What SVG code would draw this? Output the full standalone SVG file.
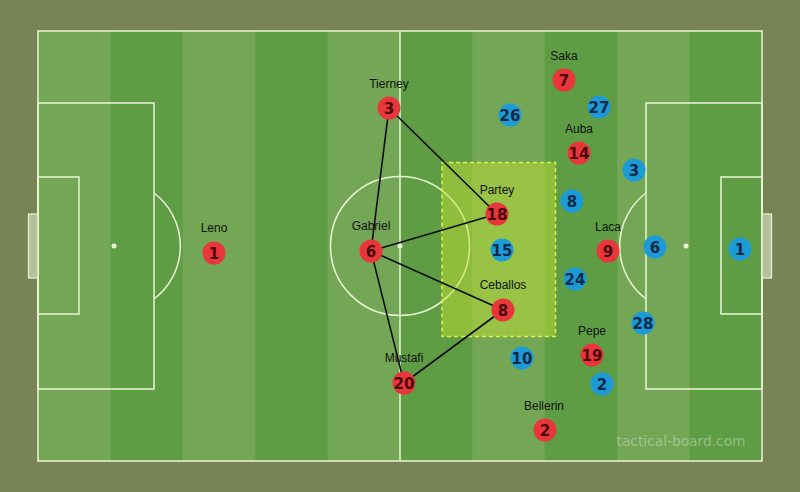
<svg xmlns="http://www.w3.org/2000/svg" width="800" height="492" viewBox="0 0 800 492">
<style>
.ln{fill:none;stroke:#eaf5d6;stroke-width:1.5}
.lt{fill:#eaf5d6}
.con{stroke:#0b0b0b;stroke-width:1.6;fill:none}
.red{fill:#e8363b}
.blue{fill:#1c9bd6}
.nr{font-family:"DejaVu Sans","Liberation Sans",sans-serif;font-weight:bold;font-size:15px;fill:#4a0b0e;text-anchor:middle}
.nb{font-family:"DejaVu Sans","Liberation Sans",sans-serif;font-weight:bold;font-size:15px;fill:#0e2a48;text-anchor:middle}
.lb{font-family:"Liberation Sans",Arial,sans-serif;font-size:12px;fill:#111;text-anchor:middle}
</style>
<rect width="800" height="492" fill="#788455"/>
<g id="pitch">
<rect x="38" y="31" width="724" height="430" fill="#73a756"/>
<rect x="110.4" y="31" width="72.4" height="430" fill="#5f9d44"/>
<rect x="255.2" y="31" width="72.4" height="430" fill="#5f9d44"/>
<rect x="400" y="31" width="72.4" height="430" fill="#5f9d44"/>
<rect x="544.8" y="31" width="72.4" height="430" fill="#5f9d44"/>
<rect x="689.6" y="31" width="72.4" height="430" fill="#5f9d44"/>
<rect x="38" y="31" width="724" height="430" class="ln" stroke-width="2"/>
<line x1="400" y1="31" x2="400" y2="461" class="ln"/>
<circle cx="400" cy="246" r="69.5" class="ln"/>
<circle cx="400" cy="246" r="2.5" class="lt"/>
<rect x="38" y="103" width="116" height="286" class="ln"/>
<rect x="38" y="177" width="41" height="137" class="ln"/>
<circle cx="114" cy="246" r="2.5" class="lt"/>
<path d="M154,193 A66.5,66.5 0 0 1 154,299" class="ln"/>
<rect x="28.5" y="214" width="9.5" height="64" fill="#b6bf9c" stroke="#eaf5d6" stroke-width="1.2"/>
<rect x="646" y="103" width="116" height="286" class="ln"/>
<rect x="721" y="177" width="41" height="137" class="ln"/>
<circle cx="686" cy="246" r="2.5" class="lt"/>
<path d="M646,193 A66.5,66.5 0 0 0 646,299" class="ln"/>
<rect x="762" y="214" width="9.5" height="64" fill="#b6bf9c" stroke="#eaf5d6" stroke-width="1.2"/>
</g>
<g id="zone">
<rect x="442" y="162.5" width="113.5" height="174" fill="#bde033" fill-opacity="0.5" stroke="#dff046" stroke-width="1.5" stroke-dasharray="4 3"/>
</g>
<text x="681" y="446" font-family="DejaVu Sans,Liberation Sans,sans-serif" font-size="13.5" fill="#ffffff" fill-opacity="0.35" text-anchor="middle" textLength="129" lengthAdjust="spacingAndGlyphs">tactical-board.com</text>
<g id="connectors">
<line x1="389" y1="108" x2="371" y2="251" class="con"/>
<line x1="389" y1="108" x2="497" y2="214" class="con"/>
<line x1="371" y1="251" x2="497" y2="214" class="con"/>
<line x1="371" y1="251" x2="503" y2="310" class="con"/>
<line x1="371" y1="251" x2="404" y2="383" class="con"/>
<line x1="404" y1="383" x2="503" y2="310" class="con"/>
</g>
<g id="p-leno"><text class="lb" x="214" y="232">Leno</text><circle class="red" cx="214" cy="253" r="11.5"/><text class="nr" x="214" y="258.5">1</text></g>
<g id="p-tierney"><text class="lb" x="389" y="88">Tierney</text><circle class="red" cx="389" cy="108" r="11.5"/><text class="nr" x="389" y="113.5">3</text></g>
<g id="p-gabriel"><text class="lb" x="371" y="230">Gabriel</text><circle class="red" cx="371" cy="251" r="11.5"/><text class="nr" x="371" y="256.5">6</text></g>
<g id="p-partey"><text class="lb" x="497" y="194">Partey</text><circle class="red" cx="497" cy="214" r="11.5"/><text class="nr" x="497" y="219.5">18</text></g>
<g id="p-ceballos"><text class="lb" x="503" y="289">Ceballos</text><circle class="red" cx="503" cy="310" r="11.5"/><text class="nr" x="503" y="315.5">8</text></g>
<g id="p-mustafi"><text class="lb" x="404" y="362">Mustafi</text><circle class="red" cx="404" cy="383" r="11.5"/><text class="nr" x="404" y="388.5">20</text></g>
<g id="p-saka"><text class="lb" x="564" y="60">Saka</text><circle class="red" cx="564" cy="80" r="11.5"/><text class="nr" x="564" y="85.5">7</text></g>
<g id="p-auba"><text class="lb" x="579" y="133">Auba</text><circle class="red" cx="579" cy="153" r="11.5"/><text class="nr" x="579" y="158.5">14</text></g>
<g id="p-laca"><text class="lb" x="608" y="231">Laca</text><circle class="red" cx="608" cy="251" r="11.5"/><text class="nr" x="608" y="256.5">9</text></g>
<g id="p-pepe"><text class="lb" x="592" y="335">Pepe</text><circle class="red" cx="592" cy="355" r="11.5"/><text class="nr" x="592" y="360.5">19</text></g>
<g id="p-bellerin"><text class="lb" x="544" y="410">Bellerin</text><circle class="red" cx="545" cy="430" r="11.5"/><text class="nr" x="545" y="435.5">2</text></g>
<g id="o-26"><circle class="blue" cx="510" cy="115" r="11.5"/><text class="nb" x="510" y="120.5">26</text></g>
<g id="o-27"><circle class="blue" cx="599" cy="107" r="11.5"/><text class="nb" x="599" y="112.5">27</text></g>
<g id="o-3"><circle class="blue" cx="634" cy="170" r="11.5"/><text class="nb" x="634" y="175.5">3</text></g>
<g id="o-8"><circle class="blue" cx="572" cy="201" r="11.5"/><text class="nb" x="572" y="206.5">8</text></g>
<g id="o-15"><circle class="blue" cx="502" cy="250" r="11.5"/><text class="nb" x="502" y="255.5">15</text></g>
<g id="o-24"><circle class="blue" cx="575" cy="279" r="11.5"/><text class="nb" x="575" y="284.5">24</text></g>
<g id="o-6"><circle class="blue" cx="655" cy="247" r="11.5"/><text class="nb" x="655" y="252.5">6</text></g>
<g id="o-1"><circle class="blue" cx="740" cy="249" r="11.5"/><text class="nb" x="740" y="254.5">1</text></g>
<g id="o-28"><circle class="blue" cx="643" cy="323" r="11.5"/><text class="nb" x="643" y="328.5">28</text></g>
<g id="o-10"><circle class="blue" cx="522" cy="358" r="11.5"/><text class="nb" x="522" y="363.5">10</text></g>
<g id="o-2"><circle class="blue" cx="602" cy="384" r="11.5"/><text class="nb" x="602" y="389.5">2</text></g>
</svg>
